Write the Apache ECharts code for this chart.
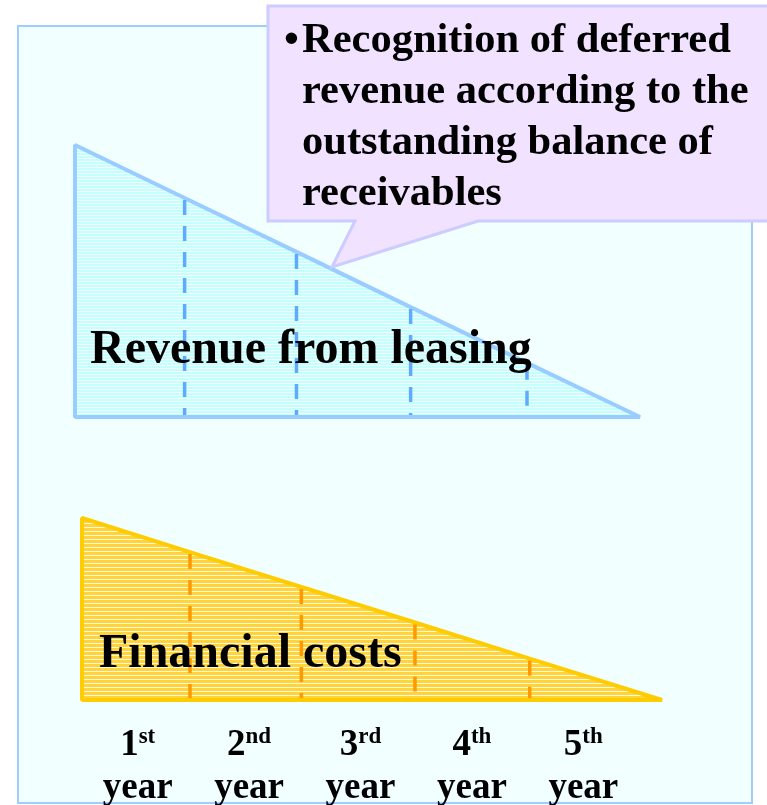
<!DOCTYPE html>
<html>
<head>
<meta charset="utf-8">
<script src="https://cdn.jsdelivr.net/npm/echarts@6/dist/echarts.min.js"></script>
<style>html,body{margin:0;padding:0;background:#fff;}#chart{width:767px;height:805px;}</style>
</head>
<body>
<div id="chart"></div>
<script>
// ---- data ----
const yearNums = ['1', '2', '3', '4', '5'];
const yearSuffix = ['st', 'nd', 'rd', 'th', 'th'];
const yearWord = 'year';
// revenue from leasing: year boundaries (x) and remaining balance (relative, %)
const revenueX = [0, 0.97, 1.96, 2.97, 4.0, 5.0];
const revenue = [100, 80.5, 60.7, 40.4, 19.9, 0];
// financial costs: year boundaries (x) and relative level (%)
const costsX = [0, 0.955, 1.94, 2.945, 3.96, 5.13];
const costs = [100, 81.3, 62.1, 42.6, 22.7, 0];
const revenueLabel = 'Revenue from leasing';
const costsLabel = 'Financial costs';
const calloutLines = ['Recognition of deferred', 'revenue according to the', 'outstanding balance of', 'receivables'];

const FONT = "'Liberation Serif', 'Times New Roman', serif";

function stripe(w, h, base, line, lineRows) {
  const c = document.createElement('canvas');
  c.width = w; c.height = h;
  const g = c.getContext('2d');
  g.fillStyle = base; g.fillRect(0, 0, w, h);
  g.fillStyle = line;
  lineRows.forEach(r => g.fillRect(0, r, w, 1));
  return { image: c, repeat: 'repeat' };
}
const bluePat = stripe(4, 3, '#C4FFFF', '#F4FFFF', [2]);
const orangePat = stripe(4, 4, '#FFD43A', '#FFF8E0', [3]);

function triRender(xs, vs, fill, edge, dashColor) {
  return function (params, api) {
    const i = params.dataIndex;
    if (i === 0) {
      const pts = [api.coord([xs[0], 0])];
      for (let k = 0; k < xs.length; k++) pts.push(api.coord([xs[k], vs[k]]));
      return { type: 'polygon', shape: { points: pts }, z2: 1,
        style: { fill: fill, stroke: edge, lineWidth: 4, lineJoin: 'bevel' } };
    }
    if (i === xs.length - 1) return null;
    const top = api.coord([api.value(0), api.value(1)]);
    const bot = api.coord([api.value(0), 0]);
    return { type: 'line', z2: 2, shape: { x1: top[0], y1: top[1] + 2, x2: bot[0], y2: bot[1] - 2 },
      style: { stroke: dashColor, lineWidth: 3.5, lineDash: [15, 11] } };
  };
}

const chart = echarts.init(document.getElementById('chart'), null, { renderer: 'canvas' });

const hiddenAxis = (gi, min, max) => ({ type: 'value', gridIndex: gi, min: min, max: max, show: false });

chart.setOption({
  animation: false,
  backgroundColor: '#ffffff',
  grid: [
    { left: 75, top: 145, width: 565, height: 272, outerBoundsMode: 'none' },
    { left: 82, top: 518, width: 580, height: 182, outerBoundsMode: 'none' },
    { left: 82, top: 699, width: 557, height: 1, outerBoundsMode: 'none' }
  ],
  xAxis: [
    hiddenAxis(0, 0, 5),
    hiddenAxis(1, 0, 5.13),
    {
      type: 'category', gridIndex: 2, data: yearNums,
      axisLine: { show: false }, axisTick: { show: false }, splitLine: { show: false },
      axisLabel: {
        margin: 24, interval: 0,
        formatter: (v, idx) => '{n|' + v + '}{s|' + yearSuffix[idx] + '}\n{y|' + yearWord + '}',
        rich: {
          n: { fontSize: 37, fontWeight: 'bold', fontFamily: FONT, color: '#000', lineHeight: 43 },
          s: { fontSize: 23, fontWeight: 'bold', fontFamily: FONT, color: '#000', verticalAlign: 'top', padding: [2, 0, 0, 0] },
          y: { fontSize: 37, fontWeight: 'bold', fontFamily: FONT, color: '#000', lineHeight: 43 }
        }
      }
    }
  ],
  yAxis: [hiddenAxis(0, 0, 100), hiddenAxis(1, 0, 100), hiddenAxis(2, 0, 1)],
  graphic: {
    elements: [
      { type: 'rect', z: -10, silent: true, shape: { x: 18, y: 26, width: 734, height: 777 },
        style: { fill: '#F2FFFF', stroke: '#A0CCFF', lineWidth: 2 } },
      { type: 'text', z: 50, silent: true, x: 90, y: 351,
        style: { text: revenueLabel, font: 'bold 48px ' + FONT, fill: '#000', verticalAlign: 'middle' } },
      { type: 'text', z: 50, silent: true, x: 99, y: 655,
        style: { text: costsLabel, font: 'bold 48px ' + FONT, fill: '#000', verticalAlign: 'middle' } },
      { type: 'polygon', z: 60, silent: true,
        shape: { points: [[268, 6], [772, 6], [772, 221], [478, 221], [332, 267], [355, 221], [268, 221]] },
        style: { fill: '#F1E2FF', stroke: '#CCCCFF', lineWidth: 3, lineJoin: 'miter' } },
      { type: 'text', z: 61, silent: true, x: 284, y: 16,
        style: { text: '\u2022', font: 'bold 42.5px ' + FONT, fill: '#000', lineHeight: 51, verticalAlign: 'top' } },
      { type: 'text', z: 61, silent: true, x: 302, y: 16,
        style: { text: calloutLines.join('\n'), font: 'bold 42.5px ' + FONT, fill: '#000', lineHeight: 51, verticalAlign: 'top' } }
    ]
  },
  series: [
    {
      type: 'custom', name: revenueLabel, xAxisIndex: 0, yAxisIndex: 0, silent: true, clip: false,
      renderItem: triRender(revenueX, revenue, bluePat, '#99CCFF', '#5FAAFF'),
      data: revenueX.map((x, i) => [x, revenue[i]])
    },
    {
      type: 'custom', name: costsLabel, xAxisIndex: 1, yAxisIndex: 1, silent: true, clip: false,
      renderItem: triRender(costsX, costs, orangePat, '#FFCC00', '#FF9900'),
      data: costsX.map((x, i) => [x, costs[i]])
    }
  ]
});
</script>
</body>
</html>
